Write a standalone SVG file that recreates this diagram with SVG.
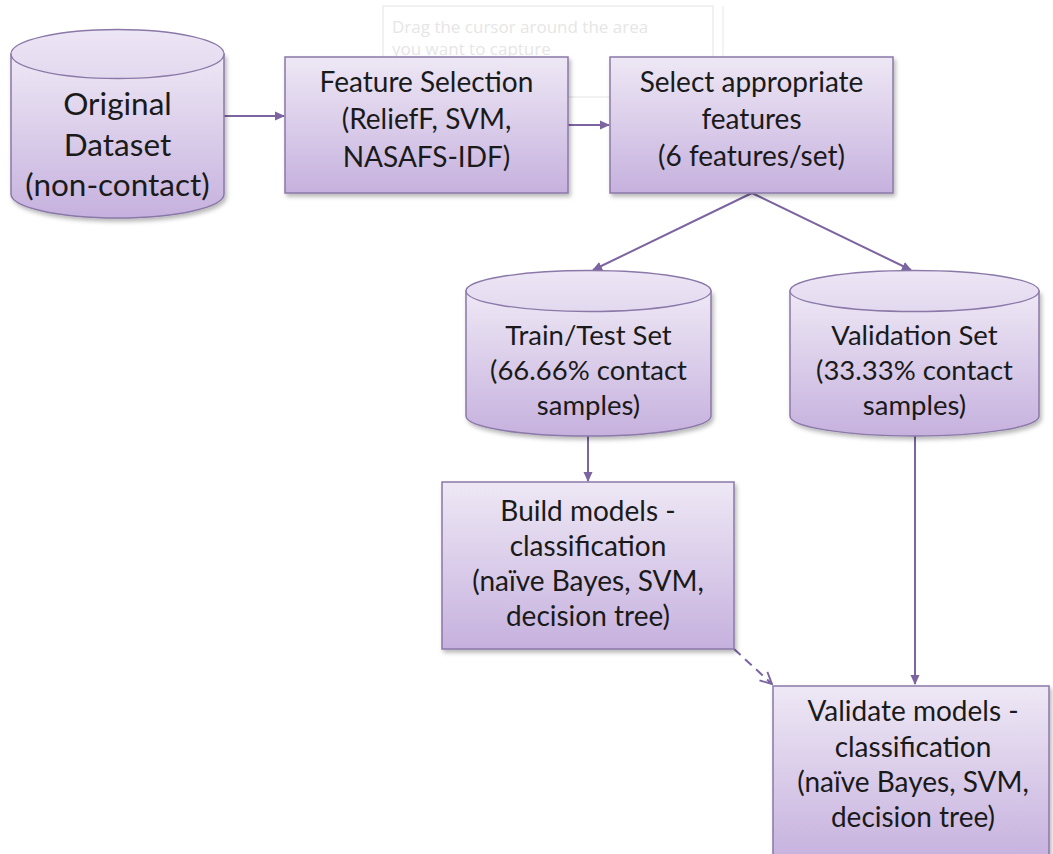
<svg xmlns="http://www.w3.org/2000/svg" width="1053" height="854" viewBox="0 0 1053 854">
  <defs>
    <linearGradient id="fillGrad" x1="0" y1="0" x2="0" y2="1">
      <stop offset="0" stop-color="#eee8f5"/>
      <stop offset="1" stop-color="#c6b1de"/>
    </linearGradient>
    <linearGradient id="capGrad" x1="0" y1="0" x2="0" y2="1">
      <stop offset="0" stop-color="#ede6f5"/>
      <stop offset="1" stop-color="#e3d9ef"/>
    </linearGradient>
    <filter id="shadow" x="-10%" y="-10%" width="125%" height="125%">
      <feDropShadow dx="2" dy="3" stdDeviation="2" flood-color="#000" flood-opacity="0.28"/>
    </filter>
    <marker id="arrow" viewBox="0 0 10 10" refX="9" refY="5" markerWidth="10" markerHeight="10" orient="auto" markerUnits="userSpaceOnUse">
      <path d="M0,0.5 L10,5 L0,9.5 z" fill="#7b64a0"/>
    </marker>
    <marker id="openArrow" viewBox="0 0 12 12" refX="11" refY="6" markerWidth="14" markerHeight="14" orient="auto" markerUnits="userSpaceOnUse">
      <path d="M1,1 L11,6 L1,11" fill="none" stroke="#7b64a0" stroke-width="1.6"/>
    </marker>
  </defs>
  <style>
    .shape { fill: url(#fillGrad); stroke: #8a78a8; stroke-width: 1.5; filter: url(#shadow); }
    .cap { fill: url(#capGrad); stroke: #8a78a8; stroke-width: 1.3; }
    .label { font-family: Lato, "Liberation Sans", sans-serif; fill: #1a1a1a; text-anchor: middle; }
    .big { font-size: 31.5px; }
    .mid { font-size: 28px; }
    .cyl { font-size: 27.5px; }
    .edge { stroke: #7b64a0; stroke-width: 2; fill: none; }
    .hint { font-family: "Open Sans", "Liberation Sans", sans-serif; font-size: 17px; fill: #e6e6e6; }
  </style>

  <rect width="1053" height="854" fill="#ffffff"/>

  <!-- faint capture-tool hint box, partly covered by the process boxes -->
  <g id="capture-hint">
    <rect x="383" y="6" width="330" height="91" fill="#ffffff" stroke="#f1f1f1" stroke-width="2"/>
    <line x1="723" y1="6" x2="723" y2="97" stroke="#f3f3f3" stroke-width="2"/>
    <text class="hint" x="392" y="33">Drag the cursor around the area</text>
    <text class="hint" x="392" y="55">you want to capture</text>
  </g>

  <!-- connectors -->
  <g id="connectors">
    <line class="edge" x1="224" y1="116" x2="284" y2="116" marker-end="url(#arrow)"/>
    <line class="edge" x1="568" y1="125" x2="609" y2="125" marker-end="url(#arrow)"/>
    <line class="edge" x1="752" y1="193" x2="593" y2="270" marker-end="url(#arrow)"/>
    <line class="edge" x1="752" y1="193" x2="911" y2="270" marker-end="url(#arrow)"/>
    <line class="edge" x1="588" y1="436" x2="588" y2="481" marker-end="url(#arrow)"/>
    <line class="edge" x1="915" y1="436" x2="915" y2="684" marker-end="url(#arrow)"/>
    <line class="edge" x1="734" y1="649" x2="772" y2="684" stroke-dasharray="9,6" marker-end="url(#openArrow)"/>
  </g>

  <!-- Original Dataset cylinder -->
  <g id="original-dataset">
    <path class="shape" d="M11,54 L11,194 A106.5,24 0 0 0 224,194 L224,54 Z"/>
    <ellipse class="cap" cx="117.5" cy="54" rx="106.5" ry="24.5"/>
    <text class="label big" x="117.5" y="115">Original</text>
    <text class="label big" x="117.5" y="156">Dataset</text>
    <text class="label big" x="117.5" y="196">(non-contact)</text>
  </g>

  <!-- Feature Selection -->
  <g id="feature-selection">
    <rect class="shape" x="285" y="57" width="283" height="136"/>
    <text class="label mid" x="426.5" y="92">Feature Selection</text>
    <text class="label mid" x="426.5" y="129">(ReliefF, SVM,</text>
    <text class="label mid" x="426.5" y="167">NASAFS-IDF)</text>
  </g>

  <!-- Select appropriate features -->
  <g id="select-features">
    <rect class="shape" x="610" y="57" width="283" height="136"/>
    <text class="label mid" x="751.5" y="92">Select appropriate</text>
    <text class="label mid" x="751.5" y="129">features</text>
    <text class="label mid" x="751.5" y="166">(6 features/set)</text>
  </g>

  <!-- Train/Test Set cylinder -->
  <g id="train-test-set">
    <path class="shape" d="M466,291 L466,416 A122.5,20 0 0 0 711,416 L711,291 Z"/>
    <ellipse class="cap" cx="588.5" cy="291" rx="122.5" ry="20.5"/>
    <text class="label cyl" x="588.5" y="345">Train/Test Set</text>
    <text class="label cyl" x="588.5" y="380">(66.66% contact</text>
    <text class="label cyl" x="588.5" y="415">samples)</text>
  </g>

  <!-- Validation Set cylinder -->
  <g id="validation-set">
    <path class="shape" d="M790,291 L790,416 A124.5,20 0 0 0 1039,416 L1039,291 Z"/>
    <ellipse class="cap" cx="914.5" cy="291" rx="124.5" ry="20.5"/>
    <text class="label cyl" x="914.5" y="345">Validation Set</text>
    <text class="label cyl" x="914.5" y="380">(33.33% contact</text>
    <text class="label cyl" x="914.5" y="415">samples)</text>
  </g>

  <!-- Build models -->
  <g id="build-models">
    <rect class="shape" x="442" y="482" width="292" height="167"/>
    <text class="label mid" x="588" y="521">Build models -</text>
    <text class="label mid" x="588" y="556">classification</text>
    <text class="label mid" x="588" y="591">(naïve Bayes, SVM,</text>
    <text class="label mid" x="588" y="626">decision tree)</text>
  </g>

  <!-- Validate models -->
  <g id="validate-models">
    <rect class="shape" x="773" y="686" width="276" height="176"/>
    <text class="label mid" x="913" y="721">Validate models -</text>
    <text class="label mid" x="913" y="757">classification</text>
    <text class="label mid" x="913" y="792">(naïve Bayes, SVM,</text>
    <text class="label mid" x="913" y="827">decision tree)</text>
  </g>
</svg>
